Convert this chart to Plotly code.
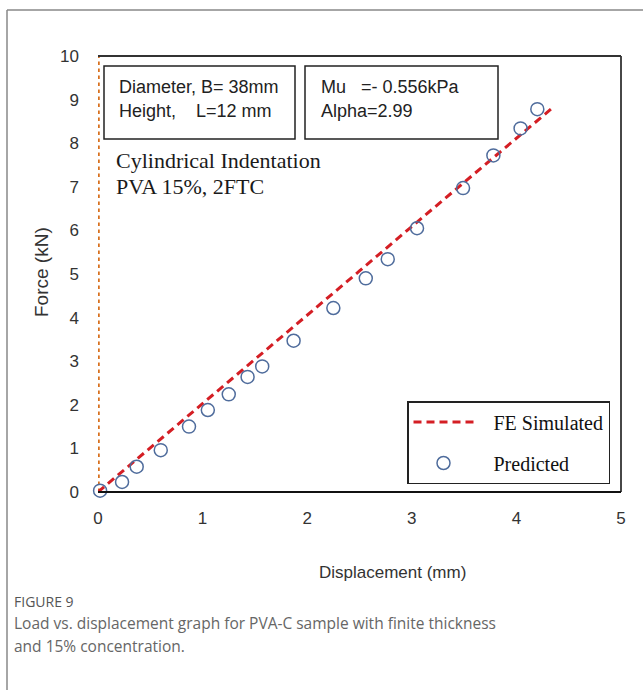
import plotly.graph_objects as go

# ---- data ----
pred_x = [0.02, 0.23, 0.37, 0.60, 0.87, 1.05, 1.25, 1.43, 1.57, 1.87, 2.25, 2.56, 2.77, 3.05, 3.49, 3.78, 4.04, 4.20]
pred_y = [0.03, 0.23, 0.58, 0.96, 1.50, 1.88, 2.24, 2.64, 2.88, 3.47, 4.22, 4.90, 5.34, 6.05, 6.97, 7.72, 8.34, 8.78]
fe_x = [0.0, 0.5, 1.0, 1.5, 2.0, 2.5, 3.0, 3.5, 4.0, 4.33]
fe_y = [0.0, 1.01, 2.03, 3.04, 4.06, 5.07, 6.09, 7.10, 8.12, 8.78]
vline_x = [0, 0]
vline_y = [0, 10]
x_ticks = [0, 1, 2, 3, 4, 5]
y_ticks = [0, 1, 2, 3, 4, 5, 6, 7, 8, 9, 10]

W_FIG, H_FIG = 643, 690
L, R, T, B = 98, 621, 56, 492
PW, PH = R - L, B - T


def px(x):
    return (x - L) / PW


def py(y):
    return 1 - (y - T) / PH


SANS = "Liberation Sans, Arial, sans-serif"
SERIF = "Liberation Serif, Times New Roman, serif"
CAP = "Open Sans, Noto Sans, sans-serif"
NB = "\u00a0"

fig = go.Figure()

fig.add_trace(go.Scatter(
    x=vline_x, y=vline_y, mode="lines", showlegend=False, hoverinfo="skip",
    line=dict(color="#D8701E", width=3.5, dash="dot"),
))
fig.add_trace(go.Scatter(
    x=fe_x, y=fe_y, mode="lines", name=NB * 3 + "FE Simulated", legendgroup="a",
    line=dict(color="#D41E24", width=3, dash="8px,5px"),
))
fig.add_trace(go.Scatter(
    x=pred_x, y=pred_y, mode="markers", name=NB * 3 + "Predicted", legendgroup="b",
    cliponaxis=False,
    marker=dict(symbol="circle-open", size=13, color="#4F6C9C", line=dict(width=1.5, color="#4F6C9C")),
))

shapes = []
# outer frame
shapes.append(dict(type="line", xref="paper", yref="paper", x0=px(7), x1=px(7), y0=py(10), y1=py(700),
                   line=dict(color="#888888", width=1.5)))
shapes.append(dict(type="line", xref="paper", yref="paper", x0=px(7), x1=px(660), y0=py(10), y1=py(10),
                   line=dict(color="#888888", width=1.5)))
# plot border (top, right, bottom)
shapes.append(dict(type="line", xref="paper", yref="paper", x0=0, x1=1, y0=1, y1=1,
                   line=dict(color="#333333", width=1.8)))
shapes.append(dict(type="line", xref="paper", yref="paper", x0=1, x1=1, y0=0, y1=1,
                   line=dict(color="#333333", width=1.8)))
shapes.append(dict(type="line", xref="paper", yref="paper", x0=0, x1=1, y0=0, y1=0,
                   line=dict(color="#111111", width=2)))
# info boxes
shapes.append(dict(type="rect", xref="paper", yref="paper", x0=px(104), x1=px(295), y0=py(139), y1=py(66),
                   line=dict(color="#222222", width=1.5), fillcolor="white"))
shapes.append(dict(type="rect", xref="paper", yref="paper", x0=px(305), x1=px(498), y0=py(139), y1=py(66),
                   line=dict(color="#222222", width=1.5), fillcolor="white"))

ann = []


def text(x, y, s, font, size, color, xanchor="left", angle=0):
    ann.append(dict(x=px(x), y=py(y), xref="paper", yref="paper", text=s, showarrow=False,
                    xanchor=xanchor, yanchor="middle", textangle=angle,
                    font=dict(family=font, size=size, color=color)))


text(117, 87, "Diameter, B=" + NB + "38mm", SANS, 18, "#222222")
text(117, 111, "Height," + NB * 4 + "L=12" + NB + "mm", SANS, 18, "#222222")
text(319, 87, "Mu" + NB * 3 + "=-" + NB + "0.556kPa", SANS, 18, "#222222")
text(319, 111, "Alpha=2.99", SANS, 18, "#222222")
text(114, 160, "Cylindrical Indentation", SERIF, 22, "#1a1a1a")
text(114, 186, "PVA 15%, 2FTC", SERIF, 22, "#1a1a1a")
text(41, 272, "Force (kN)", SANS, 19, "#333333", xanchor="center", angle=-90)
text(392, 572, "Displacement (mm)", SANS, 17, "#333333", xanchor="center")
text(12, 601, "FIGURE 9", CAP, 14, "#555555")
text(12, 623, "Load vs. displacement graph for PVA-C sample with finite thickness", CAP, 15.5, "#666666")
text(12, 646, "and 15% concentration.", CAP, 15.5, "#666666")

fig.update_layout(
    width=W_FIG, height=H_FIG, autosize=False,
    margin=dict(l=L, r=W_FIG - R, t=T, b=H_FIG - B),
    paper_bgcolor="white", plot_bgcolor="white",
    shapes=shapes, annotations=ann,
    legend=dict(
        x=px(407), y=py(484), xanchor="left", yanchor="bottom",
        bgcolor="white", bordercolor="#222222", borderwidth=1.5,
        font=dict(family=SERIF, size=20, color="#111111"),
        traceorder="grouped", tracegroupgap=12, itemwidth=60,
    ),
    xaxis=dict(range=[0, 5], tickvals=x_ticks, showgrid=False, zeroline=False, showline=False,
               ticks="", ticklabelstandoff=14,
               tickfont=dict(family=SANS, size=17, color="#333333")),
    yaxis=dict(range=[0, 10], tickvals=y_ticks, showgrid=False, zeroline=False, showline=False,
               ticks="", ticklabelstandoff=18,
               tickfont=dict(family=SANS, size=17, color="#333333")),
)

fig.write_html("out.html", config={"displayModeBar": False},
               post_script="document.body.style.margin='0';")
